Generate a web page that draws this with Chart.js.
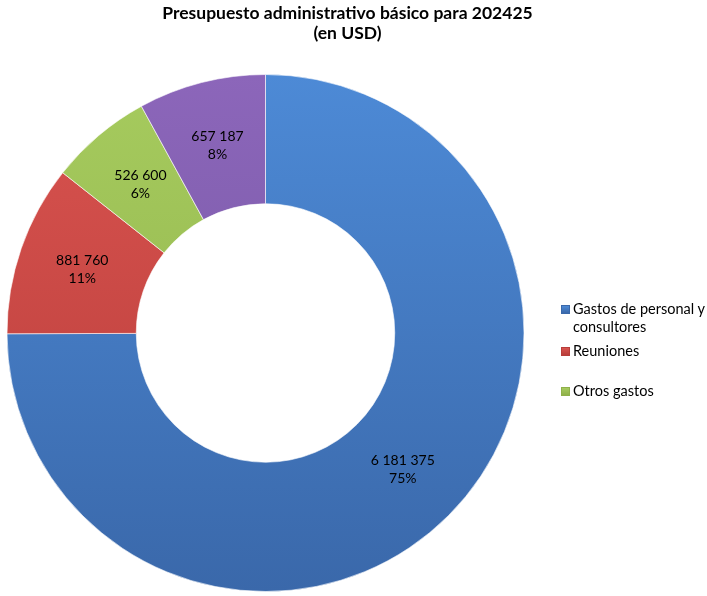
<!DOCTYPE html>
<html>
<head>
<meta charset="utf-8">
<script src="https://cdn.jsdelivr.net/npm/chart.js@4.4.0/dist/chart.umd.min.js"></script>
<style>
  html, body { margin: 0; padding: 0; background: #fff; }
  #wrap { position: relative; width: 707px; height: 596px; font-family: Lato, "Open Sans", sans-serif; color: #000; }
  #title { position: absolute; left: -6px; top: 3px; width: 707px; text-align: center; font-weight: bold; font-size: 17.5px; line-height: 20px; }
  #legend { position: absolute; left: 561px; top: 300px; font-size: 14.5px; line-height: 18px; }
  #legend .item { position: relative; padding-left: 12px; }
  #legend .sw { position: absolute; left: 0; top: 5px; width: 8px; height: 8px; }
</style>
</head>
<body>
<div id="wrap">
  <canvas id="budgetChart" width="707" height="596"></canvas>
  <div id="title"></div>
  <div id="legend"></div>
</div>
<script>
const titleLines = ['Presupuesto administrativo básico para 202425', '(en USD)'];
const categories = ['Gastos de personal y consultores', 'Reuniones', 'Otros gastos', 'Viajes'];
const amounts = [6181375, 881760, 526600, 657187];
const legendShown = [true, true, true, false];
const colorsTop = ['#4d8ad6', '#d9534f', '#a6cb5e', '#8c66ba'];
const colorsBottom = ['#3a68aa', '#b73d3a', '#8fb04a', '#7155a0'];
const legendTops = [0, 42, 82];

function qs(sel) {
  return document.querySelector(sel);
}

function fmtNumber(n) {
  return String(n).replace(/\B(?=(\d{3})+(?!\d))/g, ' ');
}

qs('#title').innerHTML = titleLines.join('<br>');

const legendEl = qs('#legend');
let li = 0;
categories.forEach((c, i) => {
  if (!legendShown[i]) return;
  const div = document.createElement('div');
  div.className = 'item';
  div.style.position = 'absolute';
  div.style.top = legendTops[li] + 'px';
  div.style.width = '140px';
  div.innerHTML = `<span class="sw" style="background:linear-gradient(${colorsTop[i]},${colorsBottom[i]});border:1px solid ${colorsBottom[i]};width:7px;height:7px"></span>${c}`;
  legendEl.appendChild(div);
  li++;
});

const total = amounts.reduce((a, b) => a + b, 0);

const sliceLabels = {
  id: 'sliceLabels',
  afterDatasetsDraw(chart) {
    const ctx = chart.ctx;
    const meta = chart.getDatasetMeta(0);
    ctx.save();
    ctx.font = '14px Lato, "Open Sans", sans-serif';
    ctx.fillStyle = '#000';
    ctx.textAlign = 'center';
    ctx.textBaseline = 'middle';
    meta.data.forEach((arc, i) => {
      const p = arc.tooltipPosition();
      const pct = Math.round(amounts[i] / total * 100) + '%';
      ctx.fillText(fmtNumber(amounts[i]), p.x, p.y - 9);
      ctx.fillText(pct, p.x, p.y + 9);
    });
    ctx.restore();
  }
};

function sliceFill(context) {
  const chart = context.chart;
  const area = chart.chartArea;
  if (!area) return colorsTop[context.dataIndex];
  const g = chart.ctx.createLinearGradient(0, area.top, 0, area.bottom);
  g.addColorStop(0, colorsTop[context.dataIndex]);
  g.addColorStop(1, colorsBottom[context.dataIndex]);
  return g;
}

new Chart(qs('#budgetChart'), {
  type: 'doughnut',
  data: {
    labels: categories,
    datasets: [{
      data: amounts,
      backgroundColor: sliceFill,
      borderColor: 'rgba(255,255,255,0.6)',
      borderWidth: 1,
    }],
  },
  options: {
    responsive: false,
    animation: false,
    cutout: '50%',
    layout: { padding: { left: 6, top: 74, right: 182, bottom: 4 } },
    plugins: {
      legend: { display: false },
      title: { display: false },
      tooltip: { enabled: false },
    },
  },
  plugins: [sliceLabels],
});
</script>
</body>
</html>
